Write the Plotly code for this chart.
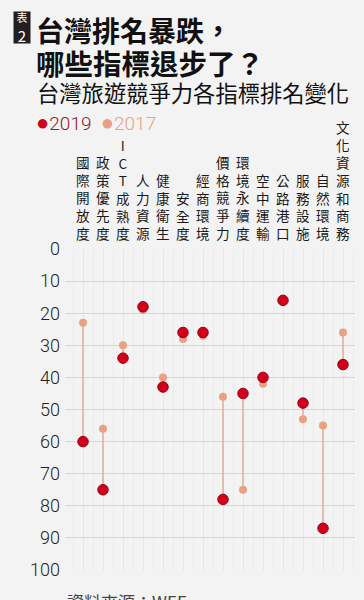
import plotly.graph_objects as go

categories = ["國際開放度", "政策優先度", "ICT成熟度", "人力資源", "健康衛生", "安全度",
              "經商環境", "價格競爭力", "環境永續度", "空中運輸", "公路港口", "服務設施",
              "自然環境", "文化資源和商務"]
rank_2019 = [60, 75, 34, 18, 43, 26, 26, 78, 45, 40, 16, 48, 87, 36]
rank_2017 = [23, 56, 30, 19, 40, 28, 27, 46, 75, 42, 16, 53, 55, 26]
y_ticks = [0, 10, 20, 30, 40, 50, 60, 70, 80, 90, 100]

W, H = 364, 600
ML, MR, MT, MB = 65, 9, 249, 30
PW, PH = W - ML - MR, H - MT - MB

def px(x):
    return (x - ML) / PW

def py(y):
    return (H - MB - y) / PH

C19 = "#d3001c"
C19_EDGE = "#9a0012"
C17 = "#e8a283"
LINE = "#dba690"
BG = "#f3f3f3"

idx = list(range(len(categories)))

lx, ly = [], []
for i, a, b in zip(idx, rank_2019, rank_2017):
    lx += [i, i, None]
    ly += [a, b, None]

fig = go.Figure()
fig.add_trace(go.Scatter(x=lx, y=ly, mode="lines", line=dict(color=LINE, width=1.3),
                         hoverinfo="skip", showlegend=False))
fig.add_trace(go.Scatter(x=idx, y=rank_2017, mode="markers", name="2017",
                         marker=dict(color=C17, size=8, line=dict(width=0)),
                         showlegend=False))
fig.add_trace(go.Scatter(x=idx, y=rank_2019, mode="markers", name="2019",
                         marker=dict(color=C19, size=10.5, line=dict(color=C19_EDGE, width=1)),
                         showlegend=False))

ann = []
# category labels (vertical stacked text)
for i, c in enumerate(categories):
    ann.append(dict(x=i, y=1, xref="x", yref="paper", xanchor="center", yanchor="bottom",
                    text="<br>".join(list(c)), showarrow=False, yshift=4,
                    font=dict(size=13.6, color="#1a1a1a", family="Noto Sans CJK TC")))

# badge
ann.append(dict(x=px(13), y=py(11), xref="paper", yref="paper", xanchor="left", yanchor="top",
                text="<span style='font-size:11px'>表</span><br>2", showarrow=False,
                bgcolor="#231f20", width=16, height=31, borderpad=0,
                font=dict(size=15, color="white", family="Noto Sans CJK TC")))
# titles
ann.append(dict(x=px(34), y=py(30), xref="paper", yref="paper", xanchor="left", yanchor="middle",
                text="<b>台灣排名暴跌，</b>", showarrow=False,
                font=dict(size=28, color="#111111", family="Noto Sans CJK TC")))
ann.append(dict(x=px(34), y=py(63), xref="paper", yref="paper", xanchor="left", yanchor="middle",
                text="<b>哪些指標退步了？</b>", showarrow=False,
                font=dict(size=28.5, color="#111111", family="Noto Sans CJK TC")))
ann.append(dict(x=px(35), y=py(92), xref="paper", yref="paper", xanchor="left", yanchor="middle",
                text="台灣旅遊競爭力各指標排名變化", showarrow=False,
                font=dict(size=22.3, color="#111111", family="Noto Sans CJK TC")))
# legend
ann.append(dict(x=px(34), y=py(123), xref="paper", yref="paper", xanchor="left", yanchor="middle",
                text=("<span style='color:%s;font-size:22px'>●</span><span style='color:#8e1a22'>2019</span>"
                      "  <span style='color:%s'><span style='font-size:22px'>●</span>2017</span>") % (C19, C17),
                showarrow=False,
                font=dict(size=19, family="Roboto", weight=300)))
# source
ann.append(dict(x=0, y=py(587), xref="paper", yref="paper", xanchor="left", yanchor="top",
                text="資料來源：WEF", showarrow=False,
                font=dict(size=17, color="#444444", family="Noto Sans CJK TC")))

fig.update_layout(
    width=W, height=H,
    margin=dict(l=ML, r=MR, t=MT, b=MB),
    paper_bgcolor=BG, plot_bgcolor=BG,
    annotations=ann,
    xaxis=dict(range=[-0.9, 13.6], tickvals=idx, showticklabels=False, showgrid=True,
               gridcolor="#e6e6e6", gridwidth=1, zeroline=False, showline=False, ticks="",
               minor=dict(dtick=0.5, tick0=-0.5, showgrid=True, gridcolor="#ececec")),
    yaxis=dict(range=[100, 0], tickvals=y_ticks, showgrid=True, gridcolor="#d6d6d6",
               gridwidth=1, zeroline=False, showline=False, ticks="",
               tickfont=dict(size=18, color="#222222", family="Roboto", weight=300),
               ticklabelstandoff=4),
    font=dict(family="Noto Sans CJK TC"),
)

fig.write_html("out.html")
